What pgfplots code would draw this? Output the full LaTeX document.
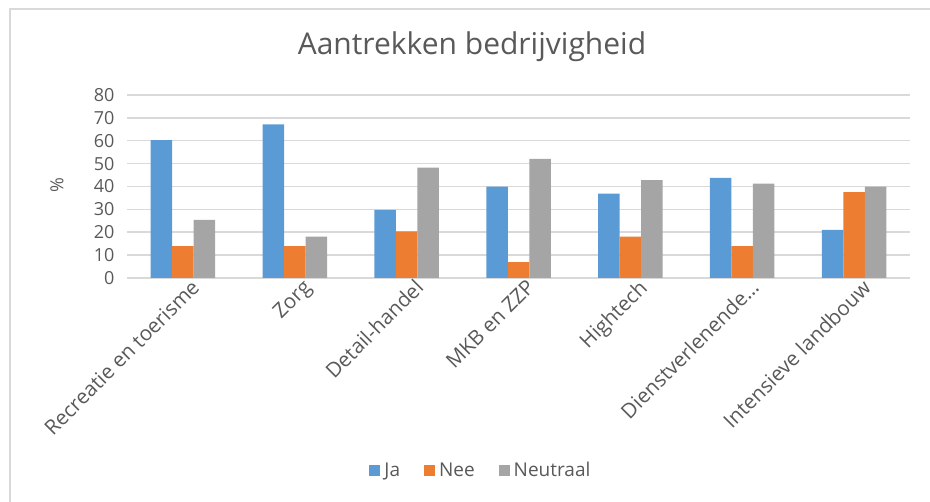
\documentclass[border=0pt]{standalone}
\usepackage{pgfplots}
\pgfplotsset{compat=1.18}
\usepackage{fontspec}
\setmainfont{Open Sans}
\definecolor{ja}{HTML}{5B9BD5}
\definecolor{nee}{HTML}{ED7D31}
\definecolor{neu}{HTML}{A5A5A5}
\definecolor{gridc}{HTML}{D9D9D9}
\definecolor{txt}{HTML}{595959}
\pgfplotstableread{
x ja nee neu
0 60.3 13.9 25.4
1 67.2 13.9 18.1
2 29.8 20.4 48.2
3 39.9 6.9 52.1
4 36.9 18.1 42.8
5 43.8 13.9 41.3
6 21.0 37.5 39.9
}\datatable
\begin{document}
\begin{tikzpicture}[x=1pt,y=1pt]
\path[use as bounding box] (0,0) rectangle (930,502);
\draw[gridc, line width=2pt] (10,0) -- (10,493) -- (930,493);
\node[txt, font=\fontsize{30}{34}\selectfont] at (472,455) {Aantrekken bedrijvigheid};
\node[txt, rotate=90, font=\fontsize{18}{20}\selectfont] at (57,317) {\%};
\begin{axis}[
  at={(127pt,224pt)}, anchor=south west,
  scale only axis, width=783pt, height=183pt,
  xmin=-0.5, xmax=6.5, ymin=0, ymax=80,
  ytick={0,10,...,80},
  xtick=data,
  xticklabels={Recreatie en toerisme, Zorg, Detail-handel, MKB en ZZP, Hightech, Dienstverlenende\dots, Intensieve landbouw},
  x tick label style={rotate=45, anchor=north east, font=\fontsize{20.5}{22}\selectfont, text=txt, inner sep=1pt, xshift=6pt, yshift=-4pt},
  y tick label style={font=\fontsize{18}{20}\selectfont, text=txt, xshift=-9pt},
  /pgf/number format/assume math mode=true,
  major tick length=0pt,
  ymajorgrids, grid style={gridc, line width=1.5pt},
  axis line style={draw=none},
  ybar=0pt, bar width=21.5pt,
  legend style={at={(0.452,-1.05)}, anchor=center, draw=none, legend columns=-1, font=\fontsize{19}{21}\selectfont, text=txt,
    /tikz/every even column/.append style={column sep=22pt}, /tikz/every odd column/.append style={column sep=2pt}},
  legend image code/.code={\fill[#1] (0pt,-5.5pt) rectangle (11pt,5.5pt);},
]
\addplot[fill=ja, draw=none] table[x=x, y=ja] {\datatable};
\addplot[fill=nee, draw=none] table[x=x, y=nee] {\datatable};
\addplot[fill=neu, draw=none] table[x=x, y=neu] {\datatable};
\legend{Ja, Nee, Neutraal}
\end{axis}
\end{tikzpicture}
\end{document}
